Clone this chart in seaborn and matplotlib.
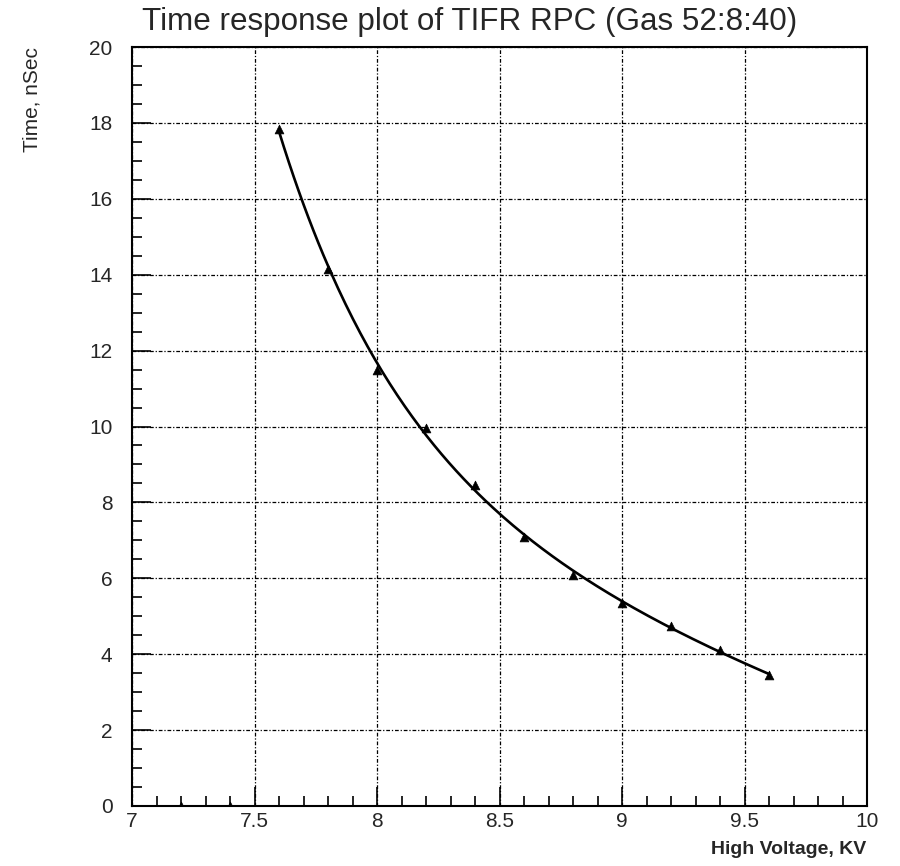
import numpy as np
import pandas as pd
import matplotlib
matplotlib.use("Agg")
import matplotlib.pyplot as plt
import seaborn as sns
from matplotlib.ticker import MultipleLocator

# Data
voltage = [7.2, 7.4, 7.6, 7.8, 8.0, 8.2, 8.4, 8.6, 8.8, 9.0, 9.2, 9.4, 9.6]
time_ns = [0.0, 0.0, 17.85, 14.15, 11.5, 9.95, 8.45, 7.1, 6.1, 5.35, 4.75, 4.1, 3.45]

title = "Time response plot of TIFR RPC (Gas 52:8:40)"
xlabel = "High Voltage, KV"
ylabel = "Time, nSec"

sns.set_theme(style="white")
plt.rcParams['font.family'] = ['Liberation Sans', 'DejaVu Sans']

fig = plt.figure(figsize=(9, 8.66), dpi=100)
ax = fig.add_axes([0.1467, 0.0693, 0.8167, 0.8764])

df = pd.DataFrame({"V": voltage, "T": time_ns})

# Fit curve (log-cubic) through the non-zero points
fitdf = df[df["T"] > 0]
coef = np.polyfit(fitdf["V"], np.log(fitdf["T"]), 3)
xs = np.linspace(fitdf["V"].min(), fitdf["V"].max(), 200)
curve = pd.DataFrame({"V": xs, "T": np.exp(np.polyval(coef, xs))})

sns.lineplot(data=curve, x="V", y="T", ax=ax, color="black", linewidth=1.9, zorder=3)
sns.scatterplot(data=df, x="V", y="T", ax=ax, marker="^", color="black", s=40,
                edgecolor="black", linewidth=0.5, zorder=4)

ax.set_xlim(7, 10)
ax.set_ylim(0, 20)
ax.xaxis.set_major_locator(MultipleLocator(0.5))
ax.xaxis.set_minor_locator(MultipleLocator(0.1))
ax.yaxis.set_major_locator(MultipleLocator(2))
ax.yaxis.set_minor_locator(MultipleLocator(0.5))
ax.set_xticks([7, 7.5, 8, 8.5, 9, 9.5, 10])
ax.set_xticklabels(["7", "7.5", "8", "8.5", "9", "9.5", "10"])

ax.grid(True, which="major", color="black", linestyle=(0, (3, 1.5, 1, 1.5)), linewidth=0.9)
ax.tick_params(which="major", direction="in", length=14, width=1.2, color="black",
               labelsize=15, bottom=True, left=True, top=False, right=False)
ax.tick_params(which="minor", direction="in", length=7, width=1.2, color="black",
               bottom=True, left=True, top=False, right=False)
ax.tick_params(axis="x", pad=4)
ax.tick_params(axis="y", pad=14)
for sp in ax.spines.values():
    sp.set_color("black")
    sp.set_linewidth(1.5)

ax.set_xlabel("")
ax.set_ylabel("")
fig.text(0.962, 0.009, xlabel, ha="right", va="bottom", fontsize=14, fontweight="bold")
fig.text(0.035, 0.946, ylabel, ha="center", va="top", rotation=90, fontsize=15)
fig.text(0.522, 0.957, title, ha="center", va="bottom", fontsize=22.6)

fig.savefig("out.png", dpi=100, facecolor="white")
